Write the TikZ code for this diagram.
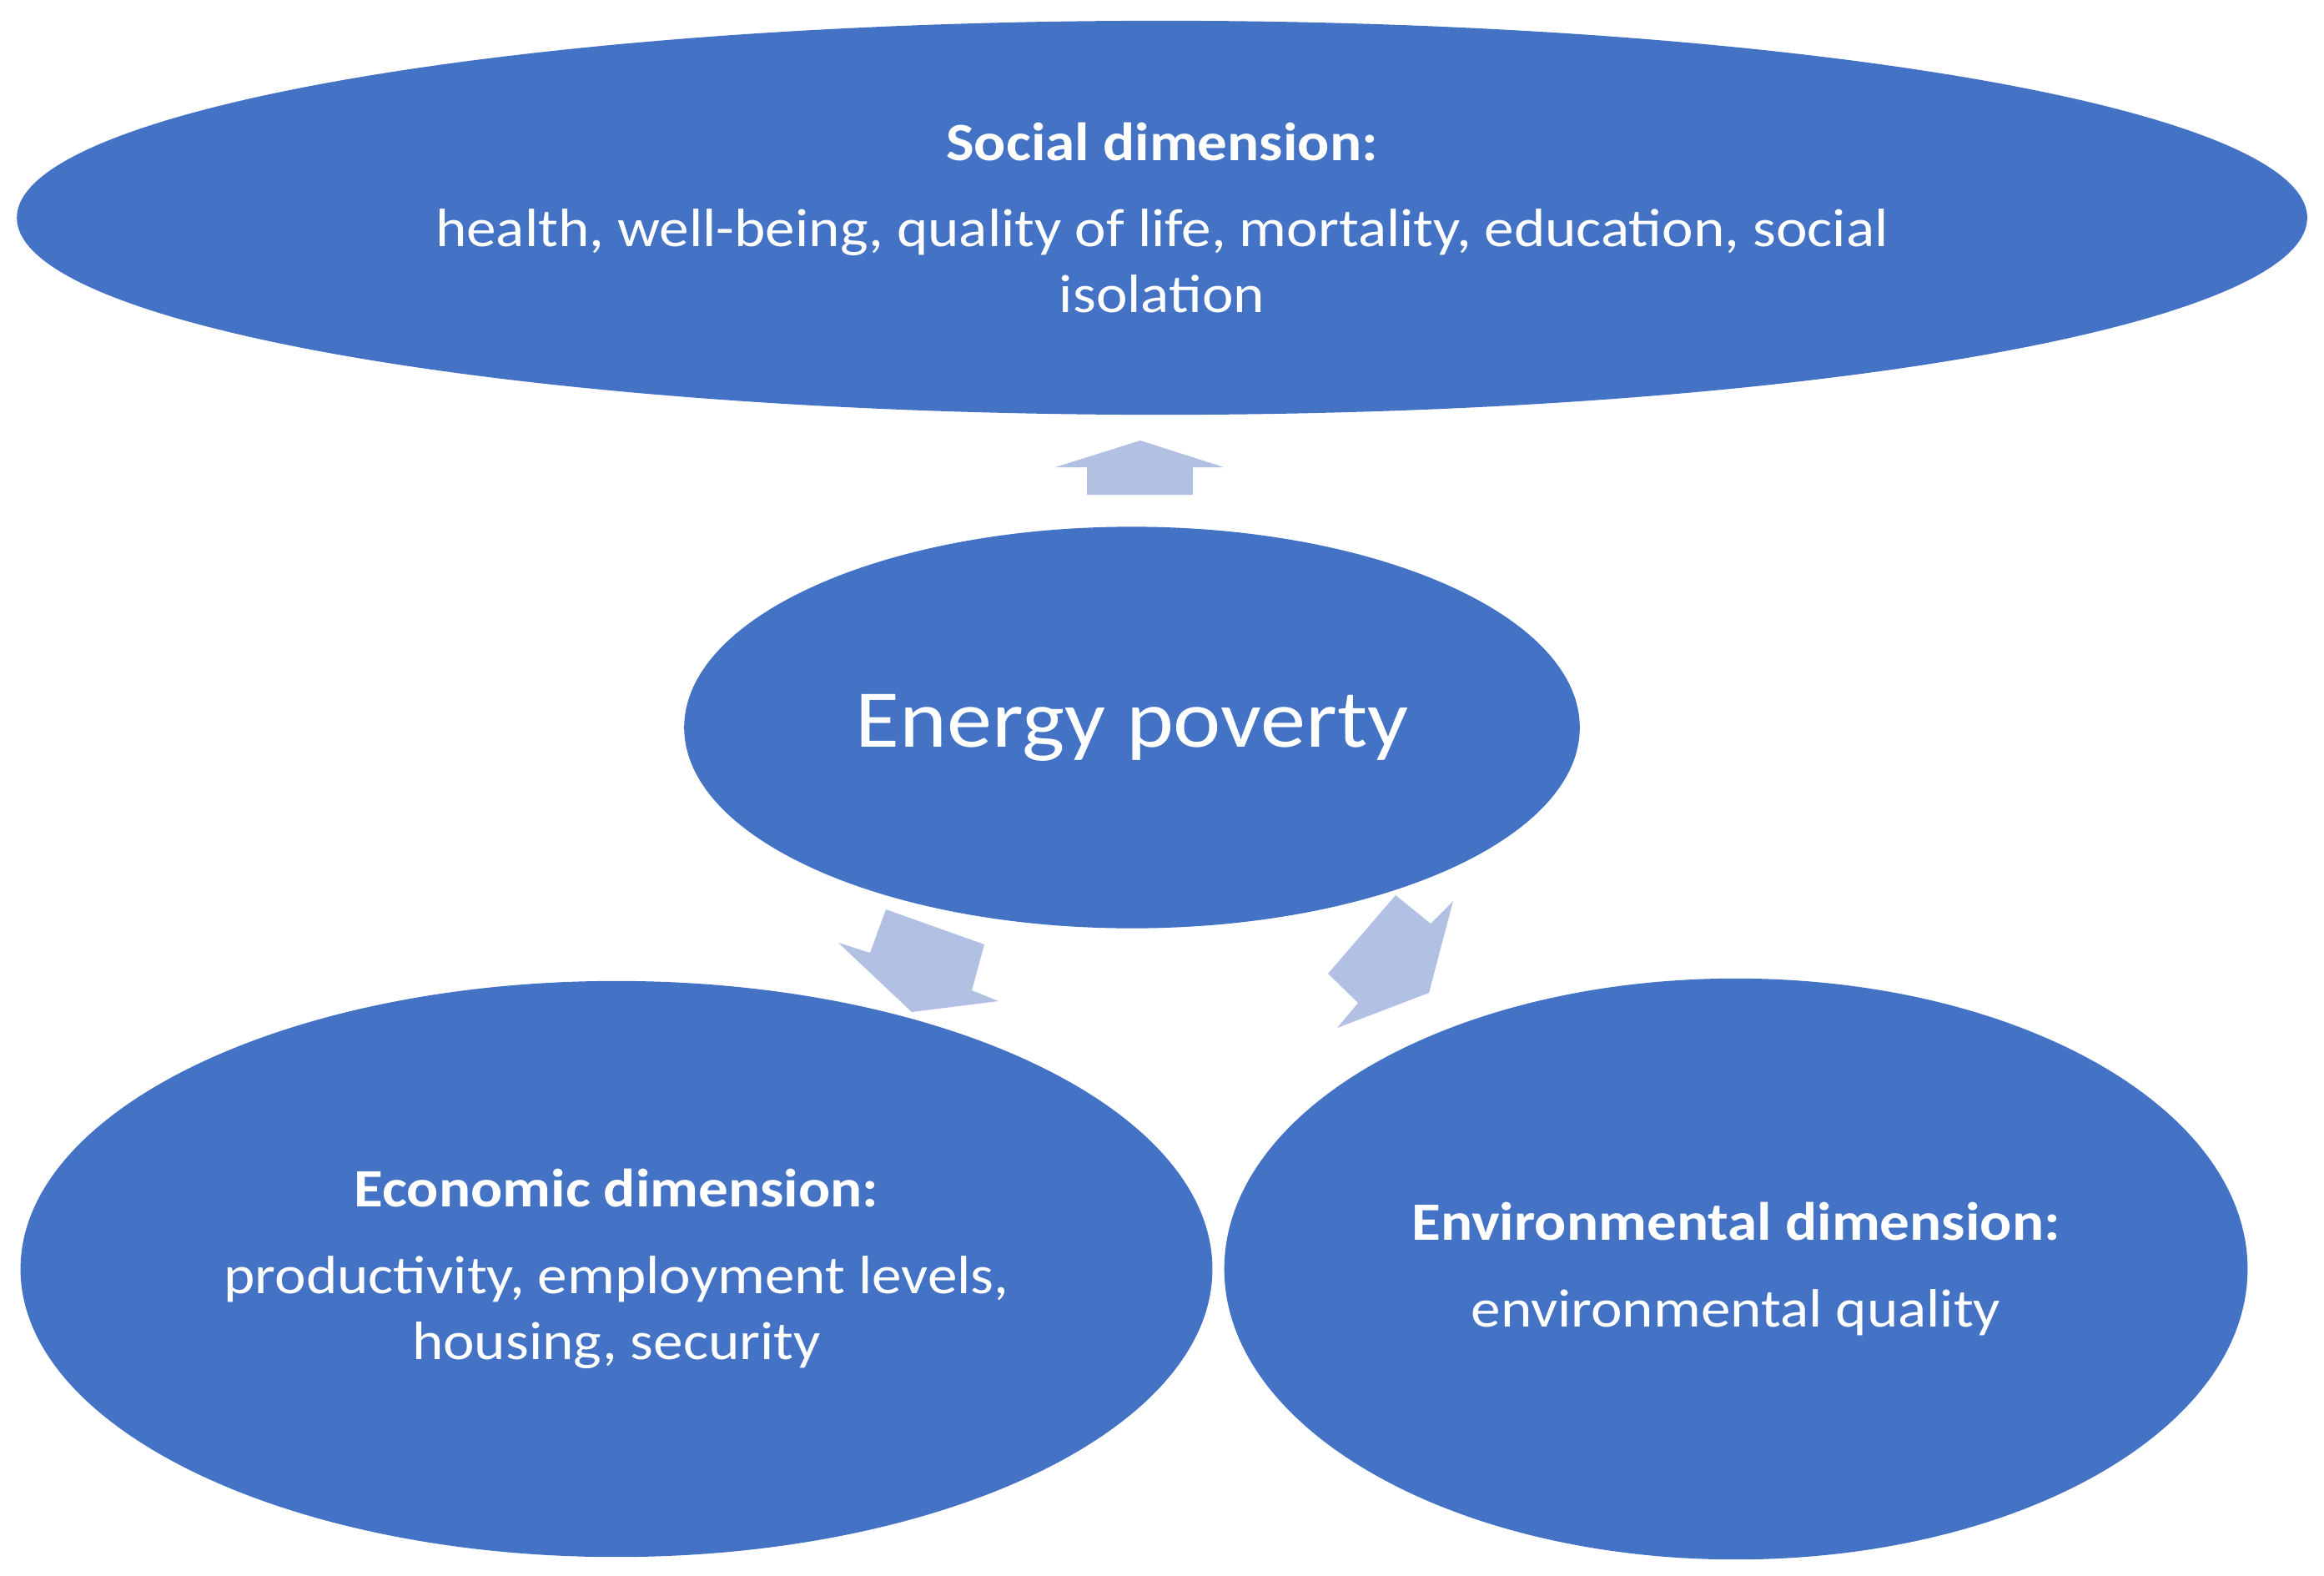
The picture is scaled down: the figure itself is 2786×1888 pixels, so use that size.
\documentclass[tikz,border=0pt]{standalone}
\usepackage{fontspec}
\setmainfont[FakeStretch=1.1]{Carlito}
\usetikzlibrary{shapes.geometric}
\definecolor{dimblue}{RGB}{68,114,196}
\definecolor{arrowblue}{RGB}{178,192,228}
\tikzset{
	dimension/.style={ellipse, fill=dimblue, text=white, inner sep=0pt, align=center,
		font=\fontsize{18.4}{22.5}\selectfont},
	blockarrow/.style={fill=arrowblue, draw=none}
}

\begin{document}
\begin{tikzpicture}[x=0.01cm, y=-0.01cm]
				\useasboundingbox (0,0) rectangle (2786,1888);
				
				% the four ellipses
				\node[dimension, minimum width=27.44cm, minimum height=4.72cm] (social) at (1393,261)
					{\textbf{Social dimension:}\\[7pt]
					health, well-being, quality of life, mortality, education, social\\
					isolation};
				\node[dimension, minimum width=10.73cm, minimum height=4.81cm,
					font=\fontsize{28}{32}\selectfont] (poverty) at (1357,872) {Energy poverty};
				\node[dimension, minimum width=14.28cm, minimum height=6.9cm] (economic) at (739,1521)
					{\textbf{Economic dimension:}\\[7pt]
					productivity, employment levels,\\
					housing, security};
				\node[dimension, minimum width=12.26cm, minimum height=6.96cm] (environmental) at (2081,1521)
					{\textbf{Environmental dimension:}\\[7pt]
					environmental quality};
				
				% block arrows
				\fill[blockarrow] (1367,528) -- (1467,560) -- (1430,560) -- (1430,593)
					-- (1303,593) -- (1303,560) -- (1265,560) -- cycle;
				\fill[blockarrow] (1062,1090) -- (1180,1132) -- (1165,1187) -- (1197,1200)
					-- (1093,1213) -- (1005,1130) -- (1043,1142) -- cycle;
				\fill[blockarrow] (1673,1073) -- (1715,1107) -- (1742,1080) -- (1713,1190)
					-- (1603,1232) -- (1628,1202) -- (1592,1167) -- cycle;
				
\end{tikzpicture}
\end{document}
